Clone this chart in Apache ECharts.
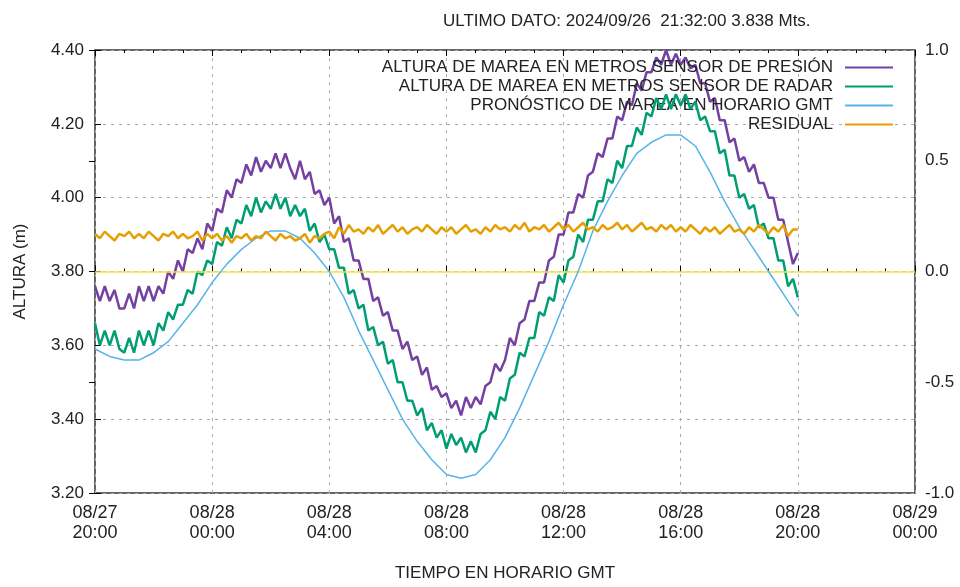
<!DOCTYPE html>
<html><head><meta charset="utf-8">
<script src="https://cdn.jsdelivr.net/npm/echarts@6/dist/echarts.min.js"></script>
<style>html,body{margin:0;padding:0;background:#fff}#c{width:960px;height:587px}</style>
</head><body><div id="c"></div>
<script>
const titleText = 'ULTIMO DATO: 2024/09/26  21:32:00 3.838 Mts.';
const yName = 'ALTURA (m)';
const xName = 'TIEMPO EN HORARIO GMT';
const seriesNames = [
  'ALTURA DE MAREA EN METROS SENSOR DE PRESIÓN',
  'ALTURA DE MAREA EN METROS SENSOR DE RADAR',
  'PRONÓSTICO DE MAREA EN HORARIO GMT',
  'RESIDUAL'
];
const xTickLabels = ['08/27\n20:00','08/28\n00:00','08/28\n04:00','08/28\n08:00','08/28\n12:00','08/28\n16:00','08/28\n20:00','08/29\n00:00'];
const obsStepHours = 10 / 60;       // observations every 10 minutes from 08/27 20:00
const forecastStepHours = 0.5;      // forecast every 30 minutes from 08/27 20:00

const pressure = [
  3.76,3.72,3.76,3.72,3.75,3.70,
  3.70,3.74,3.70,3.76,3.72,3.76,
  3.72,3.76,3.74,3.80,3.78,3.83,
  3.80,3.86,3.85,3.89,3.86,3.93,
  3.91,3.97,3.96,4.02,4.00,4.05,
  4.04,4.09,4.06,4.11,4.07,4.10,
  4.08,4.12,4.08,4.12,4.08,4.05,
  4.10,4.05,4.07,4.01,4.02,3.98,
  4.00,3.93,3.95,3.88,3.89,3.83,
  3.83,3.78,3.78,3.72,3.73,3.68,
  3.69,3.64,3.64,3.59,3.61,3.56,
  3.57,3.52,3.54,3.48,3.49,3.46,
  3.47,3.43,3.45,3.41,3.46,3.43,
  3.46,3.44,3.49,3.50,3.55,3.53,
  3.56,3.62,3.60,3.66,3.67,3.72,
  3.72,3.77,3.77,3.83,3.84,3.90,
  3.90,3.96,3.96,4.01,4.00,4.06,
  4.07,4.12,4.11,4.16,4.16,4.22,
  4.21,4.26,4.25,4.31,4.29,4.34,
  4.34,4.38,4.36,4.40,4.36,4.39,
  4.36,4.38,4.35,4.36,4.31,4.31,
  4.26,4.27,4.21,4.21,4.15,4.16,
  4.10,4.11,4.07,4.09,4.04,4.04,
  4.00,4.00,3.94,3.94,3.88,3.82,
  3.85
];
const radar = [
  3.66,3.60,3.64,3.60,3.64,3.59,
  3.58,3.62,3.58,3.64,3.60,3.64,
  3.60,3.66,3.64,3.69,3.67,3.71,
  3.71,3.75,3.74,3.80,3.79,3.83,
  3.82,3.88,3.87,3.92,3.89,3.94,
  3.93,3.98,3.95,4.00,3.96,3.99,
  3.97,4.01,3.97,4.00,3.95,3.98,
  3.95,3.97,3.91,3.93,3.88,3.90,
  3.86,3.86,3.81,3.81,3.74,3.75,
  3.70,3.71,3.64,3.65,3.60,3.61,
  3.55,3.56,3.50,3.50,3.45,3.45,
  3.41,3.43,3.37,3.39,3.35,3.37,
  3.32,3.36,3.33,3.35,3.31,3.34,
  3.31,3.36,3.37,3.42,3.40,3.46,
  3.45,3.51,3.52,3.58,3.57,3.62,
  3.62,3.69,3.68,3.73,3.72,3.79,
  3.77,3.83,3.84,3.90,3.88,3.94,
  3.94,3.99,3.99,4.05,4.04,4.10,
  4.08,4.14,4.14,4.19,4.17,4.23,
  4.22,4.27,4.24,4.28,4.24,4.28,
  4.25,4.28,4.24,4.26,4.21,4.22,
  4.18,4.18,4.12,4.13,4.06,4.06,
  4.00,4.01,3.97,3.98,3.92,3.93,
  3.89,3.89,3.83,3.83,3.76,3.78,
  3.73
];
const forecast = [
  3.59,3.57,3.56,3.56,3.58,3.61,3.66,3.71,3.77,3.82,3.86,3.89,3.91,3.91,3.89,3.85,
  3.80,3.73,3.64,3.56,3.48,3.40,3.34,3.29,3.25,3.24,3.25,3.29,3.35,3.43,3.52,3.61,
  3.71,3.80,3.91,3.99,4.06,4.12,4.15,4.17,4.17,4.14,4.07,3.99,3.92,3.86,3.80,3.74,
  3.68
];
const residual = [
  0.17,0.15,0.18,0.16,0.14,0.17,
  0.16,0.18,0.15,0.17,0.15,0.18,
  0.16,0.14,0.17,0.16,0.18,0.15,
  0.17,0.15,0.16,0.18,0.14,0.17,
  0.15,0.17,0.14,0.16,0.13,0.16,
  0.15,0.17,0.14,0.16,0.15,0.18,
  0.16,0.14,0.17,0.15,0.16,0.14,
  0.15,0.17,0.13,0.16,0.15,0.17,
  0.18,0.15,0.20,0.17,0.21,0.18,
  0.19,0.17,0.20,0.18,0.21,0.17,
  0.19,0.21,0.18,0.20,0.17,0.19,
  0.20,0.18,0.21,0.19,0.17,0.20,
  0.18,0.20,0.17,0.19,0.21,0.18,
  0.19,0.17,0.20,0.18,0.21,0.19,
  0.20,0.18,0.21,0.19,0.22,0.18,
  0.20,0.19,0.21,0.18,0.20,0.22,
  0.19,0.21,0.18,0.20,0.22,0.19,
  0.20,0.18,0.21,0.19,0.20,0.22,
  0.19,0.21,0.18,0.20,0.22,0.19,
  0.20,0.18,0.21,0.19,0.21,0.18,
  0.20,0.18,0.21,0.19,0.17,0.20,
  0.18,0.20,0.17,0.19,0.21,0.18,
  0.19,0.17,0.20,0.18,0.21,0.19,
  0.17,0.20,0.18,0.21,0.16,0.19,
  0.19
];
const zeroLineValue = 3.80;
const colors = ['#7440a2', '#009e73', '#56b4e9', '#e69f00'];

const toPairs = (arr, step) => arr.map((v, i) => [i * step, v]);
const FONT = 'Liberation Sans';

const chart = echarts.init(document.getElementById('c'), null, {renderer: 'canvas'});
const tickStyle = {show: true, inside: true, length: 6, lineStyle: {color: '#000', width: 1}};
chart.setOption({
  animation: false,
  backgroundColor: '#fff',
  textStyle: {fontFamily: FONT},
  title: {text: titleText, left: 438, top: 8, textStyle: {fontSize: 17, fontWeight: 'normal', color: '#222', fontFamily: FONT}},
  legend: {
    orient: 'vertical', right: 62, top: 54, align: 'right',
    icon: 'rect', itemWidth: 48, itemHeight: 2, itemGap: 2,
    data: seriesNames,
    textStyle: {fontSize: 17, color: '#222', fontFamily: FONT, padding: [0, 7, 0, 0]}
  },
  grid: {left: 95, right: 45, top: 50, bottom: 90, show: true, borderColor: '#333', borderWidth: 1.5, containLabel: false},
  xAxis: [{
    type: 'value', min: 0, max: 28, interval: 4,
    name: xName, nameLocation: 'middle', nameGap: 72,
    nameTextStyle: {fontSize: 17, color: '#222'},
    axisLine: {show: false},
    axisTick: tickStyle,
    minorTick: {show: true, splitNumber: 4, length: 3, lineStyle: {color: '#000'}},
    axisLabel: {fontSize: 18, color: '#222', lineHeight: 20, margin: 10,
      formatter: v => xTickLabels[Math.round(v / 4)]},
    splitLine: {show: true, lineStyle: {color: '#aaa', type: [3, 5], width: 1}}
  }, {
    type: 'value', min: 0, max: 28, interval: 4, position: 'top',
    axisLine: {show: false}, axisLabel: {show: false}, axisTick: tickStyle,
    minorTick: {show: true, splitNumber: 4, length: 3, lineStyle: {color: '#000'}},
    splitLine: {show: false}
  }],
  yAxis: [{
    type: 'value', min: 3.2, max: 4.4, interval: 0.2,
    name: yName, nameLocation: 'middle', nameGap: 66, nameRotate: 90,
    nameTextStyle: {fontSize: 17, color: '#222'},
    axisLine: {show: false}, axisTick: tickStyle,
    axisLabel: {fontSize: 17, color: '#222', margin: 11, formatter: v => v.toFixed(2)},
    splitLine: {show: true, lineStyle: {color: '#aaa', type: [3, 5], width: 1}}
  }, {
    type: 'value', min: -1, max: 1, interval: 0.5, position: 'right',
    axisLine: {show: false}, axisTick: tickStyle,
    axisLabel: {fontSize: 17, color: '#222', margin: 10, formatter: v => v.toFixed(1)},
    splitLine: {show: false}
  }],
  series: [
    {name: seriesNames[0], type: 'line', data: toPairs(pressure, obsStepHours), symbol: 'none',
     lineStyle: {color: colors[0], width: 2.5}, itemStyle: {color: colors[0]}, z: 3,
     markLine: {silent: true, symbol: 'none', label: {show: false},
       lineStyle: {color: '#f0e442', width: 1.5, type: 'solid'}, data: [{yAxis: zeroLineValue}]}},
    {name: seriesNames[1], type: 'line', data: toPairs(radar, obsStepHours), symbol: 'none',
     lineStyle: {color: colors[1], width: 2.5}, itemStyle: {color: colors[1]}, z: 4},
    {name: seriesNames[2], type: 'line', data: toPairs(forecast, forecastStepHours), symbol: 'none',
     lineStyle: {color: colors[2], width: 1.5}, itemStyle: {color: colors[2]}, z: 5},
    {name: seriesNames[3], type: 'line', yAxisIndex: 1, data: toPairs(residual, obsStepHours), symbol: 'none',
     lineStyle: {color: colors[3], width: 2.5}, itemStyle: {color: colors[3]}, z: 6}
  ]
});
</script></body></html>
